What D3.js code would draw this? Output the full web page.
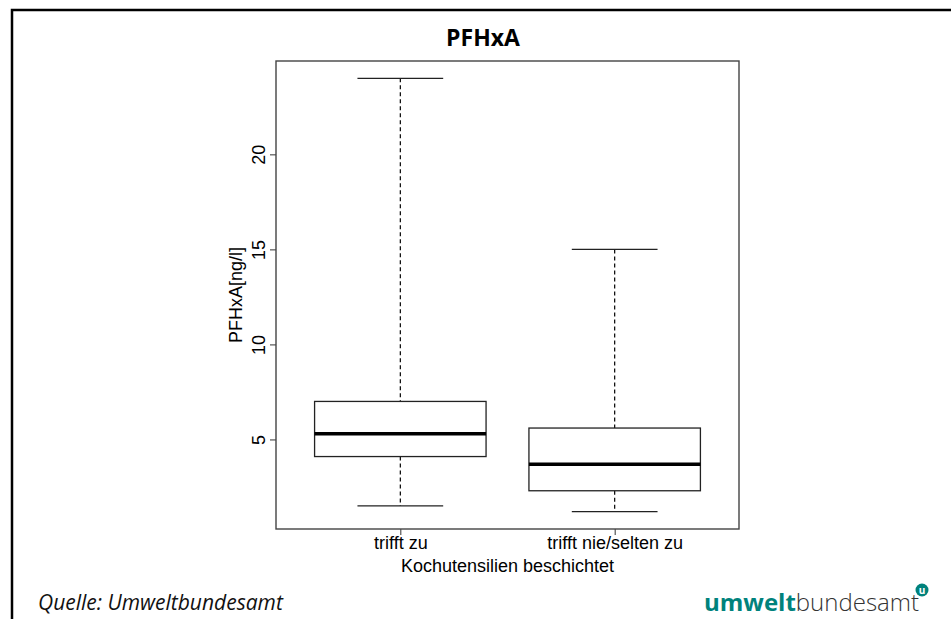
<!DOCTYPE html>
<html>
<head>
<meta charset="utf-8">
<script src="https://cdn.jsdelivr.net/npm/d3@7"></script>
<style>
  body { margin: 0; background: #fff; }
  svg { display: block; }
</style>
</head>
<body>
<svg id="chart" width="951" height="619"></svg>
<script>
// Daten
var categories = ["trifft zu", "trifft nie/selten zu"];
var whiskerLow = [1.5, 1.2];
var q1 = [4.1, 2.3];
var median = [5.3, 3.7];
var q3 = [7.0, 5.6];
var whiskerHigh = [24, 15];
var yTicks = [5, 10, 15, 20];

var boxData = categories.map(function(c, i) {
    return { cat: c, pos: i + 1, lo: whiskerLow[i], q1: q1[i], med: median[i], q3: q3[i], hi: whiskerHigh[i] };
});

var svg = d3.select("#chart");

// Rahmen um die ganze Grafik (nur oben und links)
svg.append("path")
    .attr("d", "M12,619 L12,10 L951,10")
    .attr("fill", "none")
    .attr("stroke", "#000")
    .attr("stroke-width", 2.5);

// Titel
svg.append("text")
    .attr("x", 483)
    .attr("y", 46)
    .attr("text-anchor", "middle")
    .style("font-family", "'Open Sans', sans-serif")
    .style("font-weight", "bold")
    .style("font-size", "23px")
    .text("PFHxA");

// Plotbereich wie in R: 4% Zugabe auf beiden Achsen
var pLeft = 276, pRight = 739, pTop = 61, pBottom = 529;
var lo = d3.min(whiskerLow), hi = d3.max(whiskerHigh);
var pad = (hi - lo) * 0.04;

var y = d3.scaleLinear()
    .domain([lo - pad, hi + pad])
    .range([pBottom, pTop]);

var x = d3.scaleLinear()
    .domain([0.5 - 0.08, categories.length + 0.5 + 0.08])
    .range([pLeft, pRight]);

var axisFont = "'Liberation Sans', Arial, sans-serif";

// y-Achse
var yAxis = svg.append("g")
    .attr("transform", "translate(" + pLeft + ",0)")
    .call(d3.axisLeft(y).tickValues(yTicks).tickSize(6));
yAxis.select(".domain").remove();
yAxis.selectAll("line").attr("stroke", "#333");
yAxis.selectAll("text")
    .attr("transform", "rotate(-90)")
    .attr("x", 0)
    .attr("y", -11)
    .attr("dy", 0)
    .attr("text-anchor", "middle")
    .attr("fill", "#000")
    .style("font-family", axisFont)
    .style("font-size", "18px");

// x-Achse
var xAxis = svg.append("g")
    .attr("transform", "translate(0," + pBottom + ")")
    .call(d3.axisBottom(x).tickValues([1, 2]).tickFormat(function(d) { return categories[d - 1]; }).tickSize(6));
xAxis.select(".domain").remove();
xAxis.selectAll("line").attr("stroke", "#333");
xAxis.selectAll("text")
    .attr("y", 20)
    .attr("dy", 0)
    .attr("fill", "#000")
    .style("font-family", axisFont)
    .style("font-size", "18px");

// Achsentitel
svg.append("text")
    .attr("x", (pLeft + pRight) / 2)
    .attr("y", 572)
    .attr("text-anchor", "middle")
    .style("font-family", axisFont)
    .style("font-size", "18px")
    .text("Kochutensilien beschichtet");

svg.append("text")
    .attr("transform", "translate(242," + (pTop + pBottom) / 2 + ") rotate(-90)")
    .attr("text-anchor", "middle")
    .style("font-family", axisFont)
    .style("font-size", "18px")
    .text("PFHxA[ng/l]");

// Boxplots
var boxes = svg.selectAll(".box")
    .data(boxData)
    .enter().append("g")
    .attr("class", "box");

// Whisker (gestrichelt)
boxes.append("line")
    .attr("x1", d => x(d.pos)).attr("x2", d => x(d.pos))
    .attr("y1", d => y(d.hi)).attr("y2", d => y(d.q3))
    .attr("stroke", "#000").attr("stroke-width", 1.2)
    .attr("stroke-dasharray", "4,3");
boxes.append("line")
    .attr("x1", d => x(d.pos)).attr("x2", d => x(d.pos))
    .attr("y1", d => y(d.q1)).attr("y2", d => y(d.lo))
    .attr("stroke", "#000").attr("stroke-width", 1.2)
    .attr("stroke-dasharray", "4,3");

// Endstriche
boxes.append("line")
    .attr("x1", d => x(d.pos - 0.2)).attr("x2", d => x(d.pos + 0.2))
    .attr("y1", d => y(d.hi)).attr("y2", d => y(d.hi))
    .attr("stroke", "#222").attr("stroke-width", 1.3);
boxes.append("line")
    .attr("x1", d => x(d.pos - 0.2)).attr("x2", d => x(d.pos + 0.2))
    .attr("y1", d => y(d.lo)).attr("y2", d => y(d.lo))
    .attr("stroke", "#222").attr("stroke-width", 1.3);

// Box
boxes.append("rect")
    .attr("x", d => x(d.pos - 0.4))
    .attr("width", d => x(d.pos + 0.4) - x(d.pos - 0.4))
    .attr("y", d => y(d.q3))
    .attr("height", d => y(d.q1) - y(d.q3))
    .attr("fill", "#fff")
    .attr("stroke", "#222")
    .attr("stroke-width", 1.3);

// Median
boxes.append("line")
    .attr("x1", d => x(d.pos - 0.4)).attr("x2", d => x(d.pos + 0.4))
    .attr("y1", d => y(d.med)).attr("y2", d => y(d.med))
    .attr("stroke", "#000").attr("stroke-width", 3.5);

// Rahmen des Plots
svg.append("rect")
    .attr("x", pLeft).attr("y", pTop)
    .attr("width", pRight - pLeft).attr("height", pBottom - pTop)
    .attr("fill", "none")
    .attr("stroke", "#444")
    .attr("stroke-width", 1.4);

// Quelle
svg.append("text")
    .attr("x", 38)
    .attr("y", 610)
    .style("font-family", "'Open Sans', sans-serif")
    .style("font-style", "italic")
    .style("font-size", "21px")
    .attr("fill", "#111")
    .text("Quelle: Umweltbundesamt");

// Logo
var logo = svg.append("text")
    .attr("x", 704)
    .attr("y", 611)
    .style("font-family", "'Open Sans', sans-serif")
    .style("font-size", "24px");
logo.append("tspan")
    .attr("fill", "#00827c")
    .style("font-weight", "bold")
    .text("umwelt");
logo.append("tspan")
    .attr("fill", "#333")
    .style("font-weight", "300")
    .text("bundesamt");

svg.append("circle")
    .attr("cx", 922).attr("cy", 590).attr("r", 6.5)
    .attr("fill", "#00827c");
svg.append("text")
    .attr("x", 922).attr("y", 593.5)
    .attr("text-anchor", "middle")
    .attr("fill", "#fff")
    .style("font-family", "'Open Sans', sans-serif")
    .style("font-weight", "bold")
    .style("font-size", "10px")
    .text("u");
</script>
</body>
</html>
